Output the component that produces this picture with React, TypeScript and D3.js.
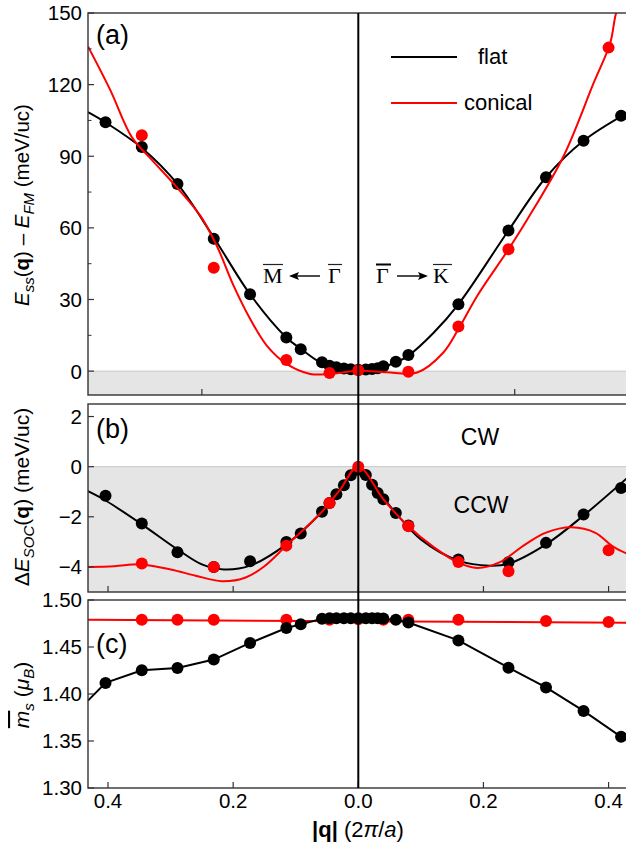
import React from "react";
import * as d3 from "d3";

// ---- data ----
// flat spiral: computed points
const qFlat = [-0.404, -0.346, -0.289, -0.231, -0.173, -0.115, -0.092, -0.058, -0.046, -0.035, -0.023, -0.012, 0, 0.012, 0.022, 0.031, 0.04, 0.06, 0.08, 0.16, 0.24, 0.30, 0.36, 0.42];
const eFlat = [104.2, 93.9, 78.4, 55.4, 32.2, 14.1, 9.2, 3.7, 2.3, 1.6, 1.1, 0.8, 0.6, 0.7, 0.9, 1.2, 2.0, 3.9, 6.8, 28, 58.9, 81.2, 96.5, 107];
const socFlat = [-1.16, -2.27, -3.41, -4.0, -3.77, -3.01, -2.67, -1.8, -1.45, -1.1, -0.74, -0.34, -0.12, -0.33, -0.72, -1.05, -1.3, -1.85, -2.35, -3.7, -3.81, -3.04, -1.91, -0.85];
const msFlat = [1.4118, 1.4253, 1.4277, 1.4366, 1.4543, 1.4702, 1.4741, 1.4801, 1.4805, 1.4805, 1.4805, 1.4805, 1.4805, 1.4805, 1.4805, 1.4805, 1.4802, 1.479, 1.476, 1.457, 1.428, 1.407, 1.382, 1.3545];

// conical spiral: computed points
const qConical = [-0.346, -0.231, -0.115, -0.046, 0, 0.08, 0.16, 0.24, 0.40];
const eConical = [98.8, 43.3, 4.7, -0.8, 0.4, -0.3, 18.7, 51, 135.5];
const socConical = [-3.86, -4.0, -3.15, -1.45, 0, -2.38, -3.8, -4.17, -3.33];
const qConicalMs = [-0.346, -0.289, -0.231, -0.115, -0.046, 0, 0.04, 0.08, 0.16, 0.30, 0.40];
const msConical = [1.479, 1.479, 1.479, 1.479, 1.479, 1.4795, 1.479, 1.479, 1.479, 1.4776, 1.4765];

// fitted curves (sampled from the figure)
const qLineEFlat = [-0.432, -0.404, -0.346, -0.289, -0.231, -0.173, -0.115, -0.09, -0.06, -0.03, 0, 0.03, 0.06, 0.08, 0.12, 0.16, 0.24, 0.30, 0.36, 0.432];
const eLineFlat = [108.5, 104.2, 93.5, 78.4, 56, 32.2, 14.1, 9.0, 3.6, 1.2, 0.6, 1.2, 3.6, 6.5, 16, 28, 58.9, 81.2, 96.5, 108.5];
const qLineEConical = [-0.432, -0.396, -0.362, -0.33, -0.29, -0.252, -0.226, -0.199, -0.1725, -0.146, -0.114, -0.077, -0.045, 0, 0.045, 0.094, 0.136, 0.16, 0.19, 0.24, 0.27, 0.328, 0.376, 0.4025, 0.412, 0.432];
const eLineConical = [136, 117.5, 98, 88.5, 77, 64.9, 52.4, 35.6, 21.7, 10.6, 2.9, -1.2, -1.2, 0.2, -0.5, -0.6, 7.8, 17.6, 31.5, 51, 63.5, 90, 120.6, 137.3, 150, 165];

const qLineSocFlat = [-0.432, -0.404, -0.346, -0.289, -0.25, -0.215, -0.173, -0.115, -0.06, -0.03, 0, 0.03, 0.06, 0.1, 0.16, 0.21, 0.24, 0.30, 0.36, 0.432];
const socLineFlat = [-0.98, -1.35, -2.3, -3.3, -3.9, -4.1, -3.95, -3.1, -1.85, -0.95, -0.15, -0.95, -1.85, -2.9, -3.75, -3.95, -3.87, -3.1, -1.95, -0.4];
const qLineSocConical = [-0.432, -0.39, -0.347, -0.3, -0.26, -0.218, -0.18, -0.15, -0.115, -0.06, -0.03, 0, 0.04, 0.08, 0.12, 0.16, 0.19, 0.2245, 0.267, 0.299, 0.341, 0.379, 0.406, 0.432];
const socLineConical = [-4.0, -3.97, -3.9, -4.1, -4.35, -4.57, -4.42, -3.97, -3.15, -1.85, -0.95, 0, -1.3, -2.38, -3.2, -3.83, -4.04, -3.83, -3.1, -2.64, -2.42, -2.64, -3.17, -3.5];

const qLineMsFlat = [-0.432, -0.404, -0.346, -0.289, -0.231, -0.173, -0.115, -0.092, -0.058, 0, 0.06, 0.08, 0.16, 0.24, 0.30, 0.36, 0.42, 0.432];
const msLineFlat = [1.393, 1.4118, 1.4253, 1.4277, 1.4366, 1.4543, 1.4702, 1.4741, 1.4801, 1.4805, 1.479, 1.476, 1.457, 1.428, 1.407, 1.382, 1.3545, 1.3527];
const qLineMsConical = [-0.432, 0.432];
const msLineConical = [1.479, 1.4759];

// axes ticks
const xTicks = [-0.4, -0.2, 0, 0.2, 0.4];
const xTicksA = [-0.25, 0.25];
const yTicksA = [0, 30, 60, 90, 120, 150];
const yMinorA = [15, 45, 75, 105, 135];
const yTicksB = [-4, -2, 0, 2];
const yTicksC = [1.3, 1.35, 1.4, 1.45, 1.5];

const BLACK = "#000";
const RED = "#ff0000";
const FRAME = "#333";
const SHADE = "#e5e5e5";
const FONT = "'Liberation Sans', Arial, sans-serif";
const SERIF = "'Liberation Serif', 'Times New Roman', serif";

const W = 626;
const H = 846;
const left = 88;
const right = 628.6;

const x = d3.scaleLinear().domain([-0.432, 0.432]).range([left, right]);
const yA = d3.scaleLinear().domain([-10, 150]).range([395, 13]);
const yB = d3.scaleLinear().domain([-5, 2.5]).range([592, 404]);
const yC = d3.scaleLinear().domain([1.3, 1.5]).range([788, 600]);

const zip = (a: number[], b: number[]) => a.map((v, i) => [v, b[i]] as [number, number]);

function Panel({ id, y, ticks, minor, fmt, xt, shadeTop, children }: any) {
  const [y0, y1] = y.range();
  return (
    <g>
      <defs>
        <clipPath id={id}>
          <rect x={left} y={y1} width={right - left} height={y0 - y1} />
        </clipPath>
      </defs>
      {shadeTop !== undefined && (
        <g>
          <rect x={left} y={y(shadeTop)} width={right - left} height={y0 - y(shadeTop)} fill={SHADE} />
          <line x1={left} x2={right} y1={y(shadeTop)} y2={y(shadeTop)} stroke="#c8c8c8" strokeWidth={1} />
        </g>
      )}
      <g clipPath={`url(#${id})`}>{children}</g>
      <rect x={left} y={y1} width={right - left + 5} height={y0 - y1} fill="none" stroke={FRAME} strokeWidth={1.4} />
      {ticks.map((t: number) => (
        <g key={"t" + t}>
          <line x1={left} x2={left + 6} y1={y(t)} y2={y(t)} stroke={FRAME} strokeWidth={1.2} />
          <text x={82} y={y(t)} dy="0.36em" textAnchor="end" fontFamily={FONT} fontSize={20.5}>{fmt(t)}</text>
        </g>
      ))}
      {(minor || []).map((t: number) => (
        <line key={"m" + t} x1={left} x2={left + 3.5} y1={y(t)} y2={y(t)} stroke={FRAME} strokeWidth={1} />
      ))}
      {xt.map((t: number) => (
        <line key={"x" + t} x1={x(t)} x2={x(t)} y1={y0} y2={y0 - 6} stroke={FRAME} strokeWidth={1.2} />
      ))}
    </g>
  );
}

function Series({ y, qLine, vLine, qPts, vPts, color, curve }: any) {
  const gen = d3.line<[number, number]>().x((d) => x(d[0])).y((d) => y(d[1])).curve(curve);
  return (
    <g>
      <path d={gen(zip(qLine, vLine)) || ""} fill="none" stroke={color} strokeWidth={2} />
      {zip(qPts, vPts).map((d, i) => (
        <circle key={i} cx={x(d[0])} cy={y(d[1])} r={6} fill={color} />
      ))}
    </g>
  );
}

export default function App() {
  const smooth = d3.curveCatmullRom.alpha(0.5);
  const fmtA = (t: number) => String(t);
  const fmtB = (t: number) => (t < 0 ? "\u2212" + Math.abs(t) : String(t));
  const fmtC = (t: number) => t.toFixed(2);
  return (
    <svg width={W} height={H} style={{ position: "absolute", left: 0, top: 0, background: "#fff" }}>
      <rect width={W} height={H} fill="#fff" />
      {/* (a) */}
      <Panel id="clipA" y={yA} ticks={yTicksA} minor={yMinorA} fmt={fmtA} xt={xTicksA} shadeTop={0}>
        <Series y={yA} qLine={qLineEFlat} vLine={eLineFlat} qPts={qFlat} vPts={eFlat} color={BLACK} curve={smooth} />
        <Series y={yA} qLine={qLineEConical} vLine={eLineConical} qPts={qConical} vPts={eConical} color={RED} curve={smooth} />
      </Panel>
      {/* (b) */}
      <Panel id="clipB" y={yB} ticks={yTicksB} fmt={fmtB} xt={xTicks} shadeTop={0}>
        <Series y={yB} qLine={qLineSocFlat} vLine={socLineFlat} qPts={qFlat} vPts={socFlat} color={BLACK} curve={smooth} />
        <Series y={yB} qLine={qLineSocConical} vLine={socLineConical} qPts={qConical} vPts={socConical} color={RED} curve={smooth} />
      </Panel>
      {/* (c) */}
      <Panel id="clipC" y={yC} ticks={yTicksC} fmt={fmtC} xt={xTicks}>
        <Series y={yC} qLine={qLineMsConical} vLine={msLineConical} qPts={qConicalMs} vPts={msConical} color={RED} curve={d3.curveLinear} />
        <Series y={yC} qLine={qLineMsFlat} vLine={msLineFlat} qPts={qFlat} vPts={msFlat} color={BLACK} curve={d3.curveLinear} />
      </Panel>

      {/* vertical line at q = 0 */}
      <line x1={x(0)} x2={x(0)} y1={13} y2={788} stroke={BLACK} strokeWidth={2} />

      {/* x tick labels */}
      {xTicks.map((t) => (
        <text key={t} x={x(t)} y={808} textAnchor="middle" fontFamily={FONT} fontSize={20.5}>
          {Math.abs(t).toFixed(1)}
        </text>
      ))}
      <text x={358} y={837} textAnchor="middle" fontFamily={FONT} fontSize={22}>
        <tspan fontWeight="bold">|q|</tspan>
        <tspan> (2</tspan>
        <tspan fontStyle="italic">π</tspan>
        <tspan>/</tspan>
        <tspan fontStyle="italic">a</tspan>
        <tspan>)</tspan>
      </text>

      {/* y labels */}
      <text transform="translate(29,205) rotate(-90)" textAnchor="middle" fontFamily={FONT} fontSize={20.5}>
        <tspan fontStyle="italic">E</tspan>
        <tspan fontStyle="italic" fontSize={15} dy={5}>ss</tspan>
        <tspan dy={-5}>(</tspan>
        <tspan fontWeight="bold">q</tspan>
        <tspan>) – </tspan>
        <tspan fontStyle="italic">E</tspan>
        <tspan fontStyle="italic" fontSize={15} dy={5}>FM</tspan>
        <tspan dy={-5}> (meV/uc)</tspan>
      </text>
      <text transform="translate(29,497) rotate(-90)" textAnchor="middle" fontFamily={FONT} fontSize={21}>
        <tspan>Δ</tspan>
        <tspan fontStyle="italic">E</tspan>
        <tspan fontStyle="italic" fontSize={15} dy={5}>SOC</tspan>
        <tspan dy={-5}>(</tspan>
        <tspan fontWeight="bold">q</tspan>
        <tspan>) (meV/uc)</tspan>
      </text>
      <text transform="translate(29,695) rotate(-90)" textAnchor="middle" fontFamily={FONT} fontSize={21}>
        <tspan fontStyle="italic" textDecoration="overline">m</tspan>
        <tspan fontStyle="italic" fontSize={15} dy={5}>s</tspan>
        <tspan dy={-5}> (</tspan>
        <tspan fontStyle="italic">μ</tspan>
        <tspan fontStyle="italic" fontSize={15} dy={5}>B</tspan>
        <tspan dy={-5}>)</tspan>
      </text>

      {/* panel letters */}
      <text x={96} y={44} fontFamily={FONT} fontSize={27}>(a)</text>
      <text x={96} y={438} fontFamily={FONT} fontSize={27}>(b)</text>
      <text x={96} y={653} fontFamily={FONT} fontSize={27}>(c)</text>

      {/* legend */}
      <line x1={391} x2={457} y1={57} y2={57} stroke={BLACK} strokeWidth={2} />
      <text x={478} y={64} fontFamily={FONT} fontSize={22}>flat</text>
      <line x1={391} x2={457} y1={103} y2={103} stroke={RED} strokeWidth={2} />
      <text x={464} y={110} fontFamily={FONT} fontSize={22}>conical</text>

      {/* direction annotations */}
      <g fontFamily={SERIF} fontSize={22}>
        <text x={263} y={283}>M</text>
        <line x1={263} x2={283} y1={264.5} y2={264.5} stroke="#222" strokeWidth={1.2} />
        <line x1={320} x2={296} y1={276} y2={276} stroke="#000" strokeWidth={1.4} />
        <path d="M289,276 L299,272 L297,276 L299,280 Z" fill="#000" />
        <text x={328} y={283}>Γ</text>
        <line x1={328} x2={342} y1={264.5} y2={264.5} stroke="#222" strokeWidth={1.2} />

        <text x={376} y={283}>Γ</text>
        <line x1={376} x2={391} y1={264.5} y2={264.5} stroke="#000" strokeWidth={2} />
        <line x1={397} x2={421} y1={276} y2={276} stroke="#000" strokeWidth={1.4} />
        <path d="M428,276 L418,272 L420,276 L418,280 Z" fill="#000" />
        <text x={433} y={283}>K</text>
        <line x1={433} x2={452} y1={264.5} y2={264.5} stroke="#222" strokeWidth={1.2} />
      </g>

      {/* CW / CCW */}
      <text x={480} y={445} textAnchor="middle" fontFamily={FONT} fontSize={23}>CW</text>
      <text x={481} y={513} textAnchor="middle" fontFamily={FONT} fontSize={23}>CCW</text>
    </svg>
  );
}
